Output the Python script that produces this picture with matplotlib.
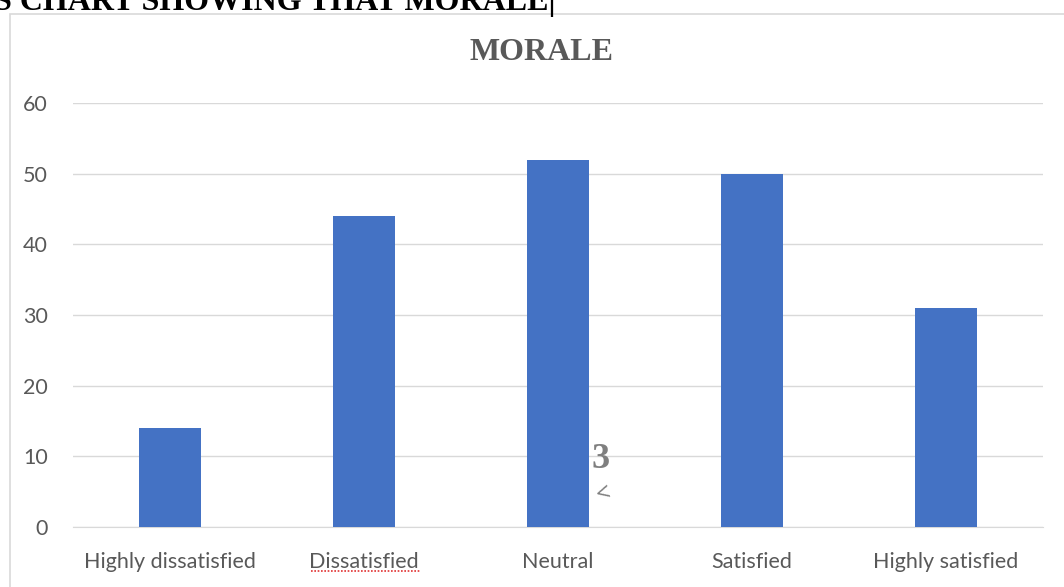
import numpy as np
import matplotlib.pyplot as plt
from matplotlib.patches import Rectangle
from matplotlib.lines import Line2D

categories = ['Highly dissatisfied', 'Dissatisfied', 'Neutral', 'Satisfied', 'Highly satisfied']
values = [14, 44, 52, 50, 31]
yticks = [0, 10, 20, 30, 40, 50, 60]

W, H = 1064, 587
fig = plt.figure(figsize=(W / 100, H / 100), dpi=100)

# chart frame (word doc embed)
fig.patches.append(Rectangle((10 / W, -0.1), 1.2, (H - 14) / H + 0.1, transform=fig.transFigure,
                             fill=False, edgecolor='#d9d9d9', linewidth=1.2))

# caption cut off at the top of the page
fig.text(-6 / W, 1 - 10 / H, 'S CHART SHOWING THAT MORALE|', family='Liberation Serif', weight='bold',
         fontsize=23, color='black', va='baseline', ha='left')

ax = fig.add_axes([73 / W, 60 / H, 970 / W, 424 / H])
x = np.arange(len(categories))
ax.bar(x, values, width=0.32, color='#4472c4', zorder=3)
ax.set_xlim(-0.5, len(categories) - 0.5)
ax.set_ylim(0, 60)
ax.set_yticks(yticks)
ax.set_xticks(x)
ax.set_xticklabels(categories)
ax.grid(axis='y', color='#d9d9d9', linewidth=1, zorder=0)
for s in ['top', 'right', 'left']:
    ax.spines[s].set_visible(False)
ax.spines['bottom'].set_color('#d9d9d9')
ax.tick_params(length=0, labelsize=15.5, labelcolor='#595959')
ax.tick_params(axis='y', pad=18)
ax.tick_params(axis='x', pad=18)
for lab in ax.get_xticklabels() + ax.get_yticklabels():
    lab.set_family('Lato')

fig.text(541 / W, 1 - 52 / H, 'MORALE', family='Liberation Serif', weight='bold', fontsize=23,
         color='#595959', ha='center', va='center')

# spellcheck squiggle under "Dissatisfied"
fig.lines.append(Line2D([311 / W, 420 / W], [1 - 571 / H, 1 - 571 / H], transform=fig.transFigure,
                        color='#e03030', linewidth=1.2, linestyle=(0, (1, 1))))

# stray page-number glyphs over the chart
fig.text(601 / W, 1 - 460 / H, '3', family='Liberation Serif', weight='bold', fontsize=26,
         color='#7f7f7f', ha='center', va='center')
fig.text(603 / W, 1 - 494 / H, '<', family='Liberation Serif', weight='bold', fontsize=18,
         color='#7f7f7f', ha='center', va='center', rotation=15)

fig.savefig('out.png', dpi=100)
